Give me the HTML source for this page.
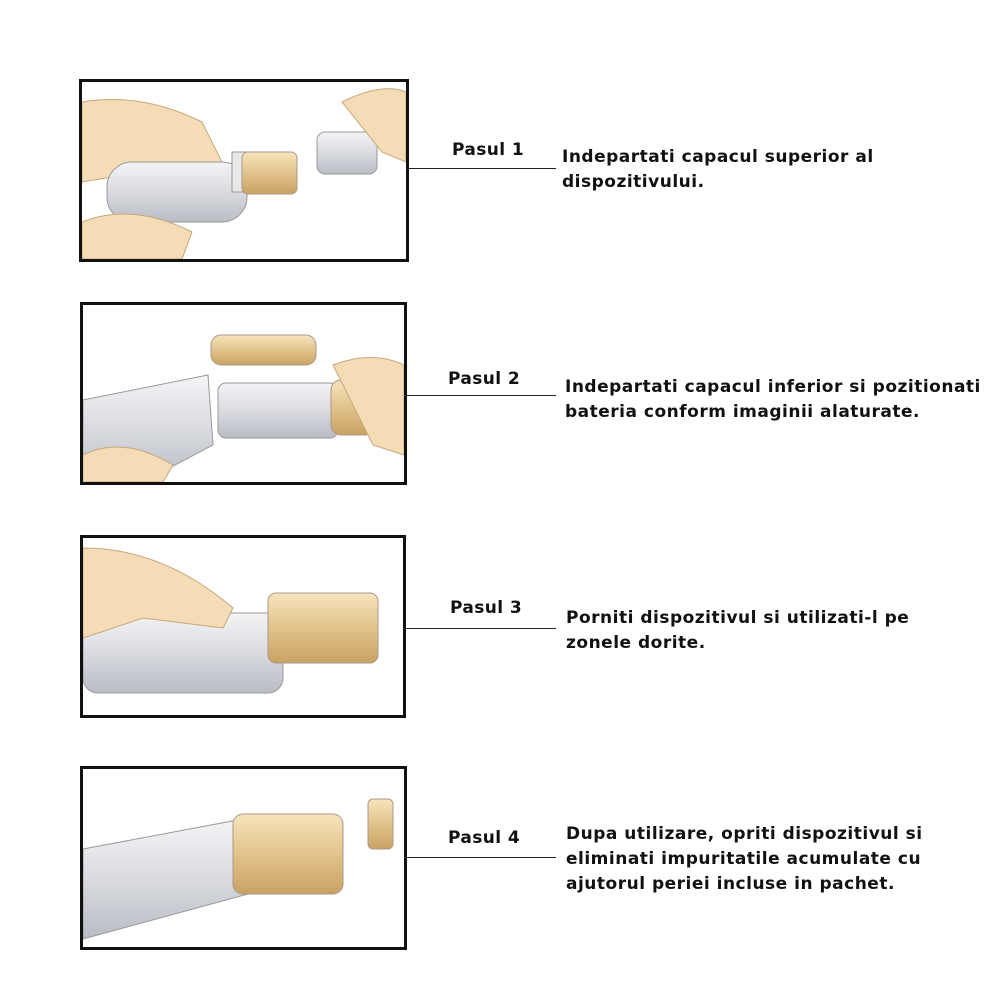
<!DOCTYPE html>
<html><head><meta charset="utf-8"><style>
body{margin:0;background:#fff;width:1000px;height:1000px;position:relative;overflow:hidden;font-family:"DejaVu Sans","Liberation Sans",sans-serif;font-weight:bold;color:#111}
.box{position:absolute;border:3px solid #111;background:#fff;overflow:hidden}
.line{position:absolute;height:1px;background:#222}
.lab{position:absolute;font-size:17px;letter-spacing:0.4px}
.txt{position:absolute;font-size:17px;line-height:25px;letter-spacing:0.5px}
</style></head><body>
<svg width="0" height="0" style="position:absolute"><defs>
<linearGradient id="cyl" x1="0" y1="0" x2="0" y2="1"><stop offset="0" stop-color="#f4f4f6"/><stop offset=".5" stop-color="#d9dbe0"/><stop offset="1" stop-color="#b9bcc4"/></linearGradient>
<linearGradient id="gold" x1="0" y1="0" x2="0" y2="1"><stop offset="0" stop-color="#f6e4bd"/><stop offset=".5" stop-color="#e2c38c"/><stop offset="1" stop-color="#c9a263"/></linearGradient>
</defs></svg>

<div class="box" style="left:79px;top:79px;width:324px;height:177px">
<svg width="324" height="177">
<path d="M0 20 Q60 10 120 40 L140 80 L100 95 L60 90 L0 100Z" fill="#f3dcb6" stroke="#c8a67a"/>
<rect x="25" y="80" width="140" height="60" rx="25" fill="url(#cyl)" stroke="#999"/>
<rect x="150" y="70" width="60" height="40" fill="#e8e8ea" stroke="#999"/>
<rect x="160" y="70" width="55" height="42" rx="6" fill="url(#gold)" stroke="#a98"/>
<path d="M0 140 Q50 120 110 150 L100 177 L0 177Z" fill="#f3dcb6" stroke="#c8a67a"/>
<rect x="235" y="50" width="60" height="42" rx="8" fill="url(#cyl)" stroke="#999"/>
<path d="M260 20 Q300 0 324 10 L324 80 L300 70Z" fill="#f3dcb6" stroke="#c8a67a"/>
</svg></div>
<div class="line" style="left:406px;top:168px;width:150px"></div>
<div class="lab" style="left:452px;top:140px">Pasul 1</div>
<div class="txt" style="left:562px;top:145px">Indepartati capacul superior al<br>dispozitivului.</div>

<div class="box" style="left:80px;top:302px;width:321px;height:177px">
<svg width="321" height="177">
<rect x="128" y="30" width="105" height="30" rx="10" fill="url(#gold)" stroke="#a98"/>
<path d="M0 95 L125 70 L130 140 L60 177 L0 177Z" fill="url(#cyl)" stroke="#999"/>
<rect x="135" y="78" width="120" height="55" rx="8" fill="url(#cyl)" stroke="#999"/>
<rect x="248" y="75" width="45" height="55" rx="10" fill="url(#gold)" stroke="#a98"/>
<path d="M250 60 Q290 45 321 60 L321 150 L290 140Z" fill="#f3dcb6" stroke="#c8a67a"/>
<path d="M0 150 Q40 130 90 160 L80 177 L0 177Z" fill="#f3dcb6" stroke="#c8a67a"/>
</svg></div>
<div class="line" style="left:404px;top:395px;width:152px"></div>
<div class="lab" style="left:448px;top:369px">Pasul 2</div>
<div class="txt" style="left:565px;top:375px">Indepartati capacul inferior si pozitionati<br>bateria conform imaginii alaturate.</div>

<div class="box" style="left:80px;top:535px;width:320px;height:177px">
<svg width="320" height="177">
<rect x="0" y="75" width="200" height="80" rx="15" fill="url(#cyl)" stroke="#999"/>
<rect x="185" y="55" width="110" height="70" rx="8" fill="url(#gold)" stroke="#a98"/>
<path d="M0 10 Q80 10 150 70 L140 90 L60 80 L0 100Z" fill="#f3dcb6" stroke="#c8a67a"/>
</svg></div>
<div class="line" style="left:403px;top:628px;width:153px"></div>
<div class="lab" style="left:450px;top:598px">Pasul 3</div>
<div class="txt" style="left:566px;top:606px">Porniti dispozitivul si utilizati-l pe<br>zonele dorite.</div>

<div class="box" style="left:80px;top:766px;width:321px;height:178px">
<svg width="321" height="178">
<path d="M0 80 L160 50 L165 125 L0 170Z" fill="url(#cyl)" stroke="#999"/>
<rect x="150" y="45" width="110" height="80" rx="10" fill="url(#gold)" stroke="#a98"/>
<rect x="285" y="30" width="25" height="50" rx="5" fill="url(#gold)" stroke="#a98"/>
</svg></div>
<div class="line" style="left:404px;top:857px;width:152px"></div>
<div class="lab" style="left:448px;top:828px">Pasul 4</div>
<div class="txt" style="left:566px;top:822px">Dupa utilizare, opriti dispozitivul si<br>eliminati impuritatile acumulate cu<br>ajutorul periei incluse in pachet.</div>
</body></html>
